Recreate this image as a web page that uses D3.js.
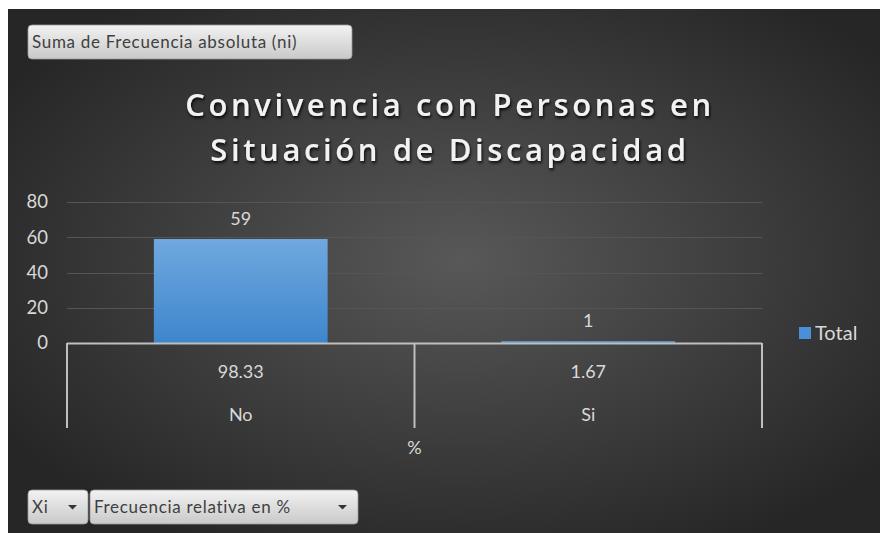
<!DOCTYPE html>
<html>
<head>
<meta charset="utf-8">
<script src="https://cdn.jsdelivr.net/npm/d3@7"></script>
<style>
  html, body { margin: 0; padding: 0; background: #fff; }
  svg { display: block; }
</style>
</head>
<body>
<div id="chart"></div>
<script>
// chart data
var categories = ["No", "Si"];
var percentLabels = ["98.33", "1.67"];
var totals = [59, 1];
var yTicks = [0, 20, 40, 60, 80];
var titleLines = ["Convivencia con Personas en", "Situación de Discapacidad"];
var seriesName = "Total";

var W = 880, H = 533;
var margin = {top: 202, left: 67, right: 118, bottom: 190};
var plotW = W - margin.left - margin.right,
    plotH = H - margin.top - margin.bottom;
var labelFont = "Lato, 'Open Sans', sans-serif";

var svg = d3.select("#chart").append("svg")
    .attr("width", W).attr("height", H);

var defs = svg.append("defs");
var bg = defs.append("radialGradient").attr("id", "bg")
    .attr("cx", "52%").attr("cy", "48%").attr("r", "62%");
bg.append("stop").attr("offset", "0%").attr("stop-color", "#585858");
bg.append("stop").attr("offset", "100%").attr("stop-color", "#262626");

var barGrad = defs.append("linearGradient").attr("id", "barGrad")
    .attr("x1", 0).attr("y1", 0).attr("x2", 0).attr("y2", 1);
barGrad.append("stop").attr("offset", "0%").attr("stop-color", "#70a8df");
barGrad.append("stop").attr("offset", "100%").attr("stop-color", "#3d86cc");

var btnGrad = defs.append("linearGradient").attr("id", "btnGrad")
    .attr("x1", 0).attr("y1", 0).attr("x2", 0).attr("y2", 1);
btnGrad.append("stop").attr("offset", "0%").attr("stop-color", "#f2f2f2");
btnGrad.append("stop").attr("offset", "100%").attr("stop-color", "#c9c9c9");

var shadow = defs.append("filter").attr("id", "shadow")
    .attr("x", "-10%").attr("y", "-30%").attr("width", "120%").attr("height", "160%");
shadow.append("feDropShadow").attr("dx", 1).attr("dy", 2)
    .attr("stdDeviation", 1.5).attr("flood-color", "#000").attr("flood-opacity", 0.9);

// background (white frame on top/left)
svg.append("rect").attr("x", 8).attr("y", 9).attr("width", W - 8).attr("height", H - 9)
    .attr("fill", "url(#bg)");

// title
svg.append("g").selectAll("text")
    .data(titleLines).enter().append("text")
    .attr("x", 450)
    .attr("y", function (d, i) { return 116 + i * 45; })
    .attr("text-anchor", "middle")
    .attr("fill", "#f2f2f2")
    .attr("filter", "url(#shadow)")
    .style("font-family", "'Open Sans', sans-serif")
    .style("font-weight", "600")
    .style("font-size", "31px")
    .style("letter-spacing", "3.6px")
    .text(function (d) { return d; });

var x = d3.scaleBand().domain(categories).range([0, plotW]).paddingInner(0).paddingOuter(0);
var y = d3.scaleLinear().domain([0, 80]).range([plotH, 0]);

var g = svg.append("g").attr("transform", "translate(" + margin.left + "," + margin.top + ")");

// gridlines
g.append("g").selectAll("line")
    .data(yTicks.slice(1)).enter().append("line")
    .attr("x1", 0).attr("x2", plotW)
    .attr("y1", function (d) { return Math.round(y(d)) + 0.5; })
    .attr("y2", function (d) { return Math.round(y(d)) + 0.5; })
    .attr("stroke", "#555").attr("stroke-width", 1);

// y axis
var yAxis = d3.axisLeft(y).tickValues(yTicks).tickSize(0).tickPadding(19);
var y_g = g.append("g").call(yAxis);
y_g.select(".domain").remove();
y_g.selectAll("text")
    .attr("fill", "#d9d9d9")
    .style("font-family", labelFont)
    .style("font-size", "18.5px");

// bars
var bw = x.bandwidth() * 0.5;
g.selectAll(".bar").data(totals).enter().append("rect")
    .attr("class", "bar")
    .attr("x", function (d, i) { return x(categories[i]) + (x.bandwidth() - bw) / 2; })
    .attr("width", bw)
    .attr("y", function (d) { return y(d); })
    .attr("height", function (d) { return y(0) - y(d); })
    .attr("fill", "url(#barGrad)");

// data labels
g.selectAll(".lbl").data(totals).enter().append("text")
    .attr("x", function (d, i) { return x(categories[i]) + x.bandwidth() / 2; })
    .attr("y", function (d) { return y(d) - 14; })
    .attr("text-anchor", "middle")
    .attr("fill", "#d9d9d9")
    .style("font-family", labelFont)
    .style("font-size", "18px")
    .text(function (d) { return d; });

// x axis: two-level category axis
var axisCol = "#bfbfbf";
var ax = g.append("g").attr("transform", "translate(0," + plotH + ")");
ax.append("line").attr("x1", 0).attr("x2", plotW).attr("y1", 0.5).attr("y2", 0.5)
    .attr("stroke", axisCol).attr("stroke-width", 2);
var bounds = [0].concat(categories.map(function (c) { return x(c) + x.bandwidth(); }));
ax.selectAll(".tick").data(bounds).enter().append("line")
    .attr("x1", function (d) { return d; }).attr("x2", function (d) { return d; })
    .attr("y1", 0).attr("y2", 85)
    .attr("stroke", axisCol).attr("stroke-width", 2);
ax.selectAll(".pct").data(percentLabels).enter().append("text")
    .attr("x", function (d, i) { return x(categories[i]) + x.bandwidth() / 2; })
    .attr("y", 35)
    .attr("text-anchor", "middle")
    .attr("fill", "#d9d9d9")
    .style("font-family", labelFont)
    .style("font-size", "18px")
    .text(function (d) { return d; });
ax.selectAll(".cat").data(categories).enter().append("text")
    .attr("x", function (d) { return x(d) + x.bandwidth() / 2; })
    .attr("y", 78)
    .attr("text-anchor", "middle")
    .attr("fill", "#d9d9d9")
    .style("font-family", labelFont)
    .style("font-size", "18px")
    .text(function (d) { return d; });
ax.append("text")
    .attr("x", plotW / 2).attr("y", 111)
    .attr("text-anchor", "middle")
    .attr("fill", "#d9d9d9")
    .style("font-family", labelFont)
    .style("font-size", "18px")
    .text("%");

// legend
var lg = svg.append("g").attr("transform", "translate(799,327)");
lg.append("rect").attr("width", 12).attr("height", 12).attr("fill", "#4a90d9");
lg.append("text").attr("x", 16).attr("y", 13)
    .attr("fill", "#d9d9d9")
    .style("font-family", labelFont)
    .style("font-size", "20px")
    .text(seriesName);

// pivot field buttons
function button(x0, y0, w, h, label, arrow) {
    var b = svg.append("g").attr("transform", "translate(" + x0 + "," + y0 + ")");
    b.append("rect").attr("width", w).attr("height", h).attr("rx", 4)
        .attr("fill", "url(#btnGrad)").attr("stroke", "#9a9a9a").attr("stroke-width", 0.8);
    b.append("text").attr("x", 4).attr("y", h / 2 + 6)
        .attr("fill", "#3f3f3f")
        .style("font-family", labelFont)
        .style("font-size", "17px")
        .style("letter-spacing", "0.7px")
        .text(label);
    if (arrow) {
        b.append("path")
            .attr("d", "M" + (w - 20) + "," + (h / 2 - 2) + "l9,0l-4.5,4.5z")
            .attr("fill", "#333");
    }
}
button(28, 25, 324, 34, "Suma de Frecuencia absoluta (ni)", false);
button(28, 490, 60, 34, "Xi", true);
button(90, 490, 268, 34, "Frecuencia relativa en %", true);
</script>
</body>
</html>
